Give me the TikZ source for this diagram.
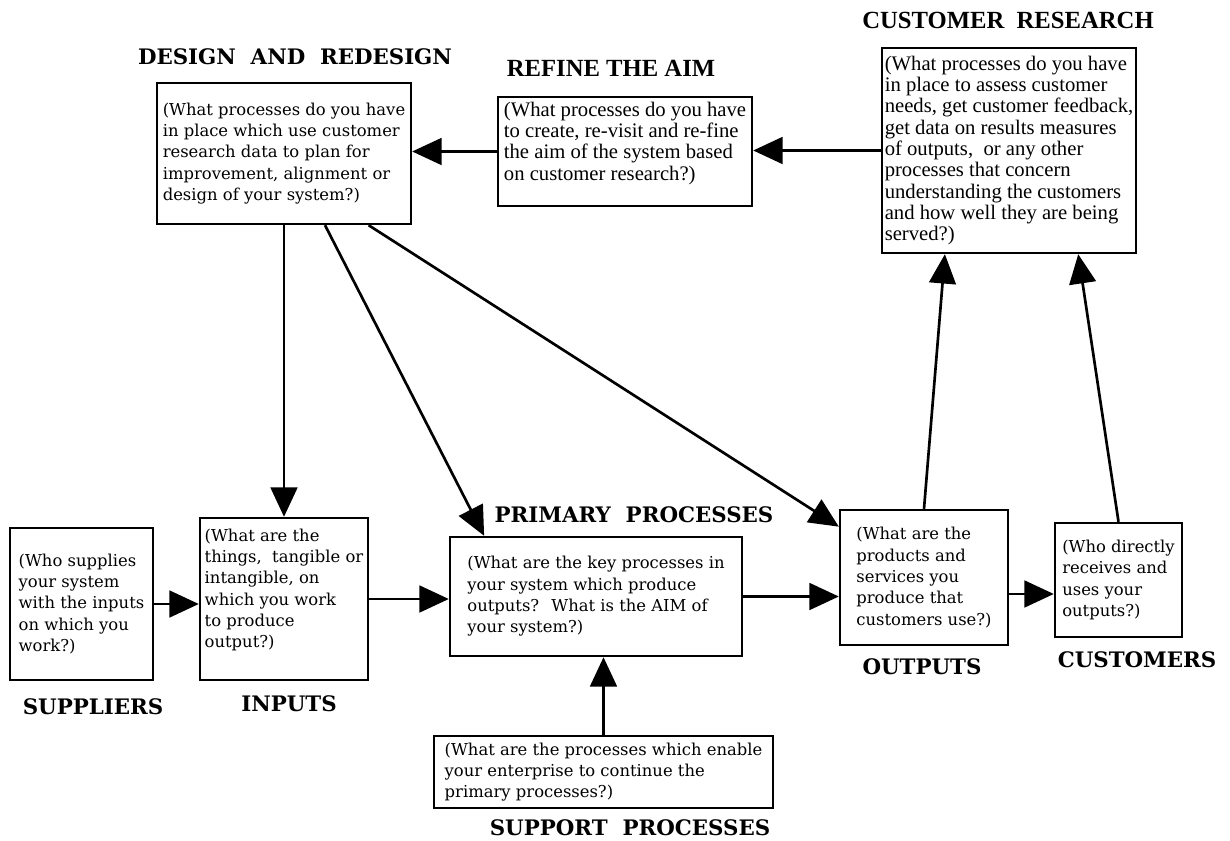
\documentclass[tikz,border=0pt]{standalone}
\usepackage{fontspec}
\setmainfont{DejaVu Serif}
\newfontfamily\timesfont{Liberation Serif}
\usetikzlibrary{arrows.meta,calc}

\begin{document}
\begin{tikzpicture}[x=0.75pt, y=-0.75pt,
    box/.style={draw, line width=1.8pt, inner sep=2pt, align=left,
        font=\fontsize{12.3}{16}\selectfont},
    tbox/.style={box, font=\timesfont\fontsize{15.5}{16}\selectfont},
    title/.style={inner sep=0pt, font=\bfseries\fontsize{16}{18}\selectfont},
    ttitle/.style={inner sep=0pt, font=\timesfont\bfseries\fontsize{18.5}{20}\selectfont},
    flow/.style={line width=2pt, -{Triangle[length=22pt,width=20pt]}}]
    \useasboundingbox (0,0) rectangle (1230,841);

    \node[box, minimum width=190.5pt, minimum height=105.75pt] (design) at (284,153.5)
        {(What processes do you have\\in place which use customer\\research data to plan for\\improvement, alignment or\\design of your system?)};
    \node[tbox, minimum width=190.5pt, minimum height=81.75pt] (refine) at (625,151.5)
        {(What processes do you have\\to create, re-visit and re-fine\\the aim of the system based\\on customer research?)\\\mbox{}};
    \node[tbox, minimum width=190.5pt, minimum height=153.75pt] (research) at (1009,150.5)
        {(What processes do you have\\in place to assess customer\\needs, get customer feedback,\\get data on results measures\\of outputs,~ or any other\\processes that concern\\understanding the customers\\and how well they are being\\served?)};
    \node[box, minimum width=107.25pt, minimum height=114pt] (suppliers) at (81.5,604)
        {(Who supplies\\your system\\with the inputs\\on which you\\work?)};
    \node[box, minimum width=126pt, minimum height=121.5pt] (inputs) at (284,599)
        {(What are the\\things,~ tangible or\\intangible, on\\which you work\\to produce\\output?)\\\mbox{}};
    \node[box, minimum width=219pt, minimum height=89.25pt] (primary) at (596,596.5)
        {(What are the key processes in\\your system which produce\\outputs?~ What is the AIM of\\your system?)};
    \node[box, minimum width=126pt, minimum height=101.25pt] (outputs) at (924,577.5)
        {(What are the\\products and\\services you\\produce that\\customers use?)};
    \node[box, minimum width=95.25pt, minimum height=85.5pt] (customers) at (1118.5,580)
        {(Who directly\\receives and\\uses your\\outputs?)};
    \node[box, minimum width=254.25pt, minimum height=54pt] (support) at (603.5,772)
        {(What are the processes which enable\\your enterprise to continue the\\primary processes?)};

    \node[title] (designlabel) at (295,57) {DESIGN\ \ AND\ \ REDESIGN};
    \node[ttitle] (refinelabel) at (611,68) {REFINE THE AIM};
    \node[ttitle] (researchlabel) at (1008,20) {CUSTOMER\ \ RESEARCH};
    \node[title] (primarylabel) at (634,515) {PRIMARY\ \ PROCESSES};
    \node[title] (supplierslabel) at (93,707) {SUPPLIERS};
    \node[title] (inputslabel) at (289,704) {INPUTS};
    \node[title] (outputslabel) at (922,667) {OUTPUTS};
    \node[title] (customerslabel) at (1137,660) {CUSTOMERS};
    \node[title] (supportlabel) at (630,828) {SUPPORT\ \ PROCESSES};

    \coordinate (outright) at ($(outputs.north east)!0.62!(outputs.south east)$);

    \draw[flow] (research.west) -- (research.west -| refine.east);
    \draw[flow] (refine.west) -- (refine.west -| design.east);
    \draw[flow] (design.south) -- (inputs.north);
    \draw[flow] ($(design.south west)!0.66!(design.south east)$)
        -- ($(primary.north west)!0.12!(primary.north east)$);
    \draw[flow] ($(design.south west)!0.83!(design.south east)$)
        -- ($(outputs.north west)!0.13!(outputs.south west)$);
    \draw[flow] (suppliers.east) -- (suppliers.east -| inputs.west);
    \draw[flow] (inputs.east) -- (inputs.east -| primary.west);
    \draw[flow] (primary.east) -- (primary.east -| outputs.west);
    \draw[flow] (outright) -- (outright -| customers.west);
    \draw[flow] (outputs.north) -- ($(research.south west)!0.25!(research.south east)$);
    \draw[flow] (customers.north) -- ($(research.south west)!0.77!(research.south east)$);
    \draw[flow] (support.north) -- (support.north |- primary.south);
\end{tikzpicture}
\end{document}
